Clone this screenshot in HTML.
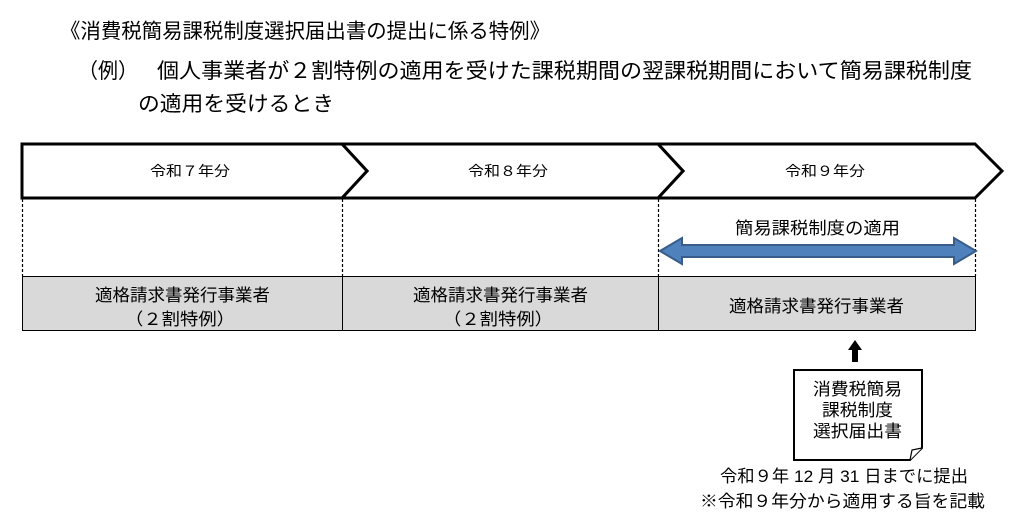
<!DOCTYPE html>
<html><head><meta charset="utf-8"><style>
body{margin:0;background:#fff;width:1025px;height:525px;overflow:hidden}
svg text{font-family:"Liberation Sans","Noto Sans CJK JP",sans-serif;fill:#000}
</style></head><body>
<svg width="1025" height="525" viewBox="0 0 1025 525" xmlns="http://www.w3.org/2000/svg">
<text x="60" y="38" font-size="20.5" textLength="490" lengthAdjust="spacingAndGlyphs">《消費税簡易課税制度選択届出書の提出に係る特例》</text>
<text x="78" y="78" font-size="21" textLength="60" lengthAdjust="spacingAndGlyphs">（例）</text>
<text x="157" y="78" font-size="21" textLength="815" lengthAdjust="spacingAndGlyphs">個人事業者が２割特例の適用を受けた課税期間の翌課税期間において簡易課税制度</text>
<text x="138" y="111" font-size="21" textLength="196" lengthAdjust="spacingAndGlyphs">の適用を受けるとき</text>

<g stroke="#000" stroke-width="1.2" stroke-dasharray="3,2">
<line x1="22.5" y1="199" x2="22.5" y2="276"/>
<line x1="342.5" y1="199" x2="342.5" y2="276"/>
<line x1="658.5" y1="199" x2="658.5" y2="276"/>
<line x1="975.5" y1="199" x2="975.5" y2="276"/>
</g>
<rect x="22.5" y="276.5" width="953" height="54" fill="#d9d9d9" stroke="#000" stroke-width="1"/>
<line x1="342.5" y1="276" x2="342.5" y2="331" stroke="#000"/>
<line x1="658.5" y1="276" x2="658.5" y2="331" stroke="#000"/>

<g fill="#fff" stroke="#000" stroke-width="3" stroke-linejoin="miter">
<polygon points="658,144 975,144 1002,171 975,198 658,198 683,171"/>
<polygon points="342,144 658,144 683,171 658,198 342,198 367,171"/>
<polygon points="22,144 342,144 367,171 342,198 22,198"/>
</g>
<text x="150" y="176" font-size="14" textLength="80" lengthAdjust="spacingAndGlyphs">令和７年分</text>
<text x="468" y="176" font-size="14" textLength="80" lengthAdjust="spacingAndGlyphs">令和８年分</text>
<text x="785" y="176" font-size="14" textLength="80" lengthAdjust="spacingAndGlyphs">令和９年分</text>

<text x="735" y="234" font-size="17" textLength="165" lengthAdjust="spacingAndGlyphs">簡易課税制度の適用</text>
<polygon points="660,251 682,238 682,245 954,245 954,238 976,251 954,264 954,257 682,257 682,264" fill="#4f81bd" stroke="#385d8a" stroke-width="2"/>

<text x="95" y="301" font-size="17" textLength="175" lengthAdjust="spacingAndGlyphs">適格請求書発行事業者</text>
<text x="125" y="325" font-size="17" textLength="110" lengthAdjust="spacingAndGlyphs">（２割特例）</text>
<text x="413" y="301" font-size="17" textLength="175" lengthAdjust="spacingAndGlyphs">適格請求書発行事業者</text>
<text x="443" y="325" font-size="17" textLength="110" lengthAdjust="spacingAndGlyphs">（２割特例）</text>
<text x="729" y="312" font-size="17" textLength="175" lengthAdjust="spacingAndGlyphs">適格請求書発行事業者</text>

<polygon points="855,340 862,350 858,350 858,362 852,362 852,350 848,350" fill="#000"/>
<path d="M794,370 L922,370 L922,448 L910,460 L794,460 Z" fill="#fff" stroke="#000" stroke-width="2"/>
<path d="M910,460 L912,450 L922,448" fill="#fff" stroke="#000" stroke-width="1.2"/>
<text x="813" y="395" font-size="17" textLength="89" lengthAdjust="spacingAndGlyphs">消費税簡易</text>
<text x="822" y="416" font-size="17" textLength="71" lengthAdjust="spacingAndGlyphs">課税制度</text>
<text x="813" y="437" font-size="17" textLength="89" lengthAdjust="spacingAndGlyphs">選択届出書</text>
<text x="720" y="482" font-size="17" textLength="248" lengthAdjust="spacingAndGlyphs">令和９年 12 月 31 日までに提出</text>
<text x="700" y="507" font-size="17" textLength="285" lengthAdjust="spacingAndGlyphs">※令和９年分から適用する旨を記載</text>
</svg>
</body></html>
